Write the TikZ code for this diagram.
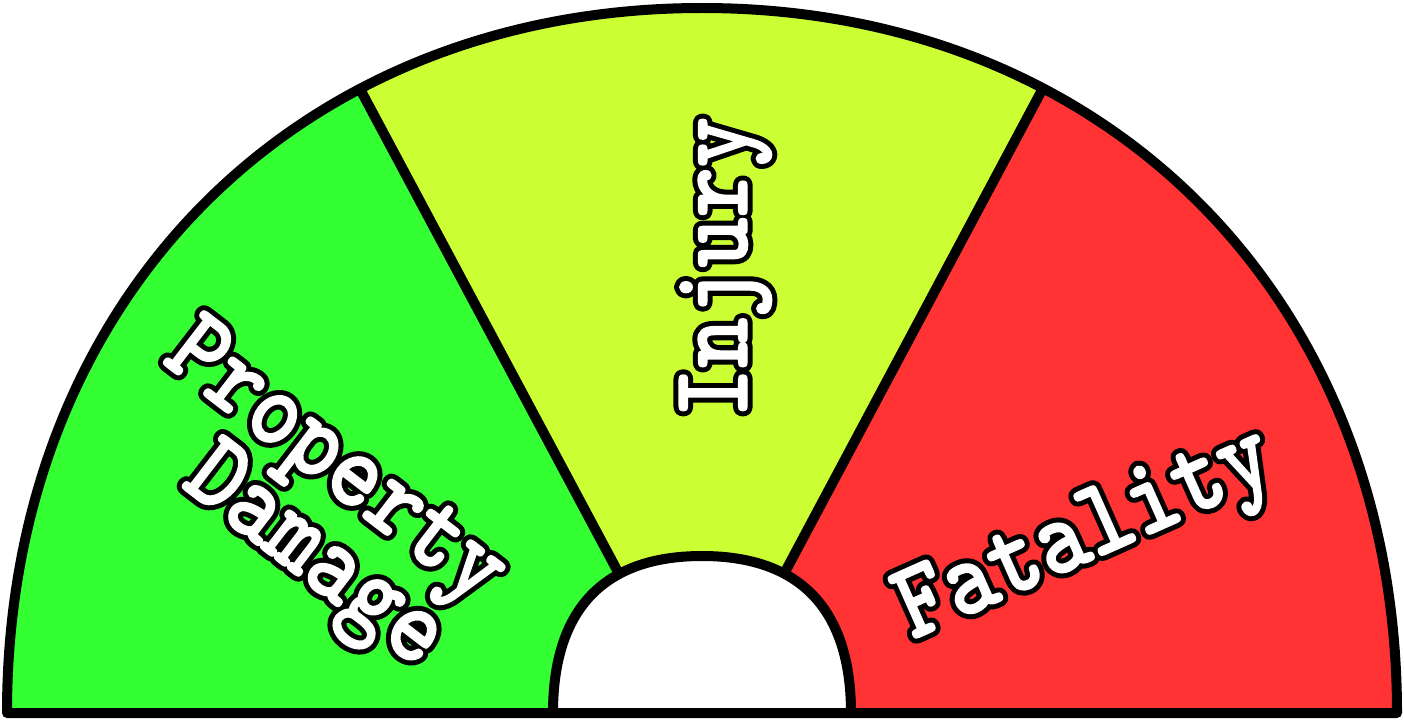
\documentclass[tikz,border=0pt]{standalone}
\usepackage{fontspec}
\newfontfamily\gfont{lmmonolt10-bold.otf}[FakeStretch=0.86]
\definecolor{gGreen}{RGB}{51,255,51}
\definecolor{gLime}{RGB}{204,255,51}
\definecolor{gRed}{RGB}{255,51,51}
\newcommand\outl[1]{\rlap{\special{pdf:literal direct 2 Tr 1 j 1 J 6.5 w}#1}\textcolor{white}{\special{pdf:literal direct 2 Tr 1 j 1 J 0.8 w}#1\special{pdf:literal direct 0 Tr 1 w}}}
\begin{document}
\begin{tikzpicture}[x=0.02cm,y=-0.02cm,
  lbl/.style={inner sep=0pt, anchor=base, text=black,
    font=\gfont\fontsize{63.2}{66}\selectfont},
  edge/.style={line width=0.2cm, line join=round, line cap=round}]
\useasboundingbox (0,0) rectangle (1404,723);
% divider coordinates
\coordinate (lt) at (355.3,80.2);
\coordinate (lb) at (627.4,589.6);
\coordinate (rt) at (1046.7,81.2);
\coordinate (rb) at (775.6,589.6);
% colour sectors
\fill[gRed] (7,713) .. controls (7,300.6) and (295.4,8) .. (702,8)
   .. controls (1108.6,8) and (1397,300.6) .. (1397,713) -- cycle;
\begin{scope}
  \clip (7,713) .. controls (7,300.6) and (295.4,8) .. (702,8)
   .. controls (1108.6,8) and (1397,300.6) .. (1397,713) -- cycle;
  \fill[gGreen] (0,713) -- (0,0) -- (312.5,0) -- (693.3,713) -- cycle;
  \fill[gLime] (312.5,0) -- (1090,0) -- (710,713) -- (693.3,713) -- cycle;
  \draw[edge] (lt) -- (lb);
  \draw[edge] (rt) -- (rb);
\end{scope}
% inner hub
\filldraw[edge, fill=white] (553,713) .. controls (553,609.4) and (603.7,556) .. (702,556)
   .. controls (800.3,556) and (851,609.4) .. (851,713);
% outer outline
\draw[edge] (7,713) .. controls (7,300.6) and (295.4,8) .. (702,8)
   .. controls (1108.6,8) and (1397,300.6) .. (1397,713) -- cycle;
% labels
\node[lbl, rotate=-37.5] (prop) at (319.5,484) {\outl{Property}};
\node[lbl, rotate=-37.5] (dam) at (299,577.6) {\outl{Damage}};
\node[lbl, rotate=90] (inj) at (747,267.5) {\outl{Injury}};
\node[lbl, rotate=24] (fat) at (1095.7,558.6) {\outl{Fatality}};
\end{tikzpicture}
\end{document}
